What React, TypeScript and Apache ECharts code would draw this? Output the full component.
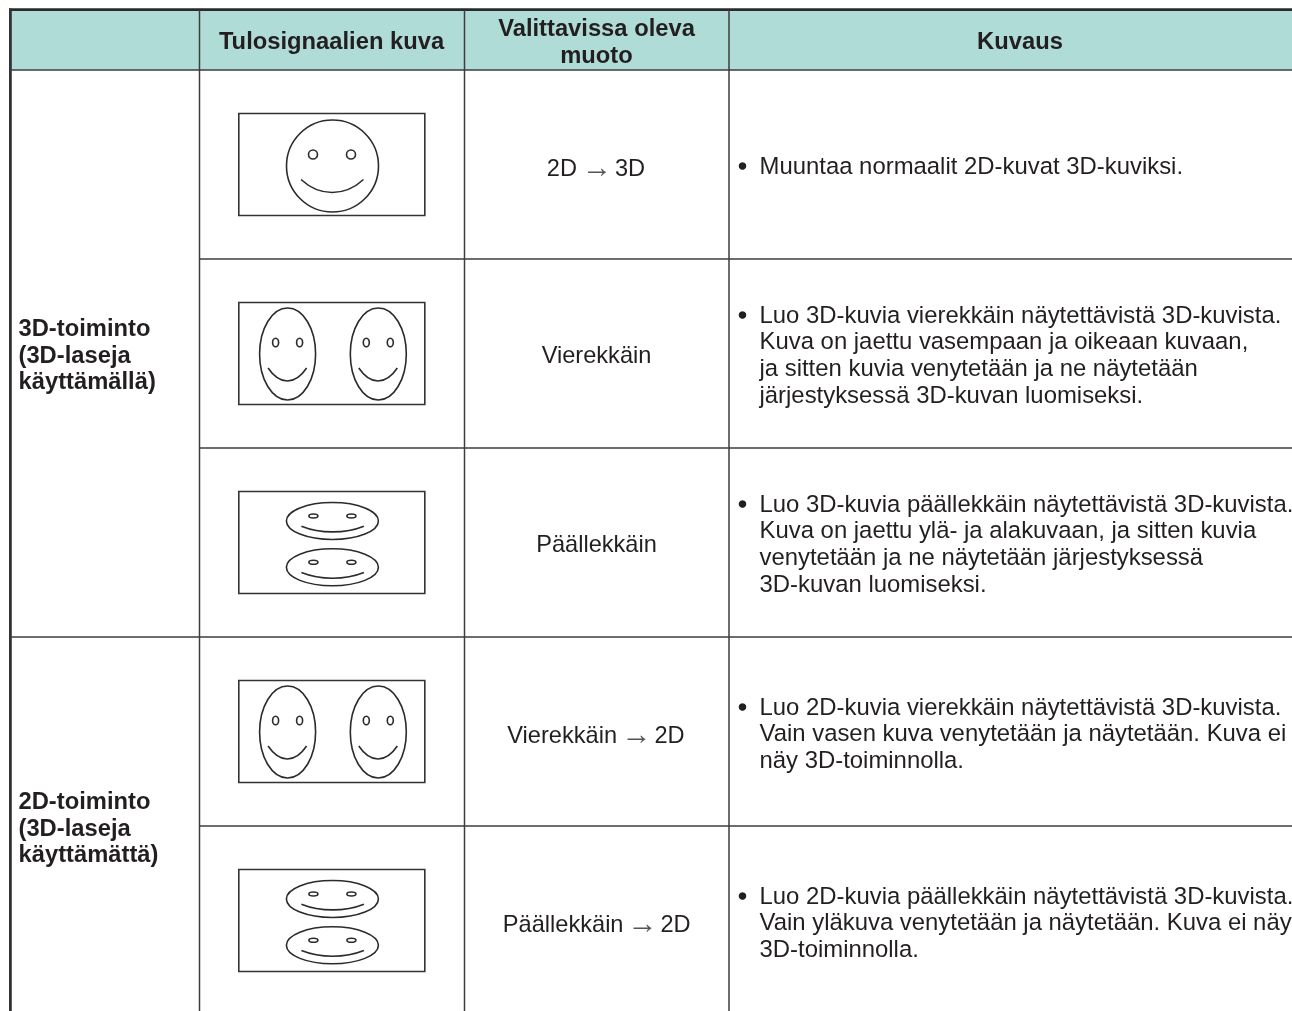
import React, { useEffect, useRef } from "react";
import * as echarts from "echarts";

const headers = ["Tulosignaalien kuva", "Valittavissa oleva\nmuoto", "Kuvaus"];
const groupLabels = ["3D-toiminto\n(3D-laseja\nkäyttämällä)", "2D-toiminto\n(3D-laseja\nkäyttämättä)"];
const formats = ["2D → 3D", "Vierekkäin", "Päällekkäin", "Vierekkäin → 2D", "Päällekkäin → 2D"];
const descriptions = [
  "Muuntaa normaalit 2D-kuvat 3D-kuviksi.",
  "Luo 3D-kuvia vierekkäin näytettävistä 3D-kuvista.\nKuva on jaettu vasempaan ja oikeaan kuvaan,\nja sitten kuvia venytetään ja ne näytetään\njärjestyksessä 3D-kuvan luomiseksi.",
  "Luo 3D-kuvia päällekkäin näytettävistä 3D-kuvista.\nKuva on jaettu ylä- ja alakuvaan, ja sitten kuvia\nvenytetään ja ne näytetään järjestyksessä\n3D-kuvan luomiseksi.",
  "Luo 2D-kuvia vierekkäin näytettävistä 3D-kuvista.\nVain vasen kuva venytetään ja näytetään. Kuva ei\nnäy 3D-toiminnolla.",
  "Luo 2D-kuvia päällekkäin näytettävistä 3D-kuvista.\nVain yläkuva venytetään ja näytetään. Kuva ei näy\n3D-toiminnolla.",
];
const faceKinds = ["round", "sideBySide", "topBottom", "sideBySide", "topBottom"];

const FONT = '"Liberation Sans", Arial, sans-serif';
const INK = "#231f20";
const LINE = "#3d3d3d";
const HEADER = "#b0dcd8";
const W = 1292;
const H = 1011;
const colX = [199.5, 464.5, 729];
const rowY = [70, 259, 448, 637, 826];
const SIZE_BODY = 23.9;
const SIZE_MID = 23.6;
const SIZE_BOLD = 23.75;
const LH = 26.65;

const hLine = (x1: number, x2: number, y: number, w = 1.5, c = LINE) => ({
  type: "line",
  shape: { x1, y1: y, x2, y2: y },
  style: { stroke: c, lineWidth: w },
});
const vLine = (x: number, y1: number, y2: number, w = 1.5, c = LINE) => ({
  type: "line",
  shape: { x1: x, y1, x2: x, y2 },
  style: { stroke: c, lineWidth: w },
});
const text = (
  x: number,
  y: number,
  t: string,
  align: string,
  verticalAlign: string,
  size: number,
  bold = false,
  fill = INK
) => ({
  type: "text",
  x,
  y,
  style: {
    text: t,
    fill,
    font: `${bold ? "bold " : ""}${size}px ${FONT}`,
    lineHeight: LH,
    align,
    verticalAlign,
  },
});
const ell = (cx: number, cy: number, rx: number, ry: number, w = 1.6) => ({
  type: "ellipse",
  shape: { cx, cy, rx, ry },
  style: { fill: "#fff", stroke: "#2b2b2b", lineWidth: w },
});
const mouth = (x1: number, x2: number, y: number, depth: number) => ({
  type: "bezierCurve",
  shape: {
    x1,
    y1: y,
    cpx1: x1 + (x2 - x1) * 0.3,
    cpy1: y + depth * 1.33,
    cpx2: x1 + (x2 - x1) * 0.7,
    cpy2: y + depth * 1.33,
    x2,
    y2: y,
  },
  style: { fill: "none", stroke: "#2b2b2b", lineWidth: 1.6 },
});
const tallFace = (cx: number, cy: number) => [
  ell(cx, cy, 28, 46),
  ell(cx - 12, cy - 11.5, 3, 4.3),
  ell(cx + 12, cy - 11.5, 3, 4.3),
  mouth(cx - 19.5, cx + 19, cy + 14, 13),
];
const flatFace = (cx: number, cy: number) => [
  ell(cx, cy, 46, 18.5),
  ell(cx - 19, cy - 5, 4.5, 2),
  ell(cx + 19, cy - 5, 4.5, 2),
  mouth(cx - 31, cx + 31.5, cy + 5.2, 5.7),
];
const picture = (kind: string, top: number) => {
  const out: any[] = [
    {
      type: "rect",
      shape: { x: 238.8, y: top + 43.5, width: 186, height: 102 },
      style: { fill: "#fff", stroke: "#333", lineWidth: 1.6 },
    },
  ];
  if (kind === "round") {
    out.push(
      ell(332.5, top + 96, 46, 46),
      ell(313, top + 84.5, 4.5, 4.5),
      ell(351, top + 84.5, 4.5, 4.5),
      mouth(301, 363.5, top + 109.5, 13)
    );
  } else if (kind === "sideBySide") {
    out.push(...tallFace(287.6, top + 95), ...tallFace(378.3, top + 95));
  } else {
    out.push(...flatFace(332.4, top + 73), ...flatFace(332.4, top + 119.3));
  }
  return out;
};

const formatY = [168, 355, 544, 735, 924];
const descTop = [166, 315, 504, 707, 896];
const arrowX: Record<number, [number, number, number]> = {
  0: [577, 597, 615],
  3: [617, 636.5, 654.5],
  4: [623.5, 642.5, 660.5],
};

export default function App() {
  const ref = useRef<HTMLDivElement>(null);
  useEffect(() => {
    const chart = echarts.init(ref.current!, undefined, { renderer: "svg" });
    const els: any[] = [
      { type: "rect", shape: { x: 0, y: 0, width: W, height: H }, style: { fill: "#fff" } },
      { type: "rect", shape: { x: 10, y: 9, width: W - 10, height: 61 }, style: { fill: HEADER } },
      hLine(9, W, 9.6, 2.8, "#2a2a2a"),
      vLine(10.4, 8.5, H, 2.8, "#333"),
      hLine(10, W, 70, 1.6),
      hLine(199.5, W, 259, 1.4),
      hLine(199.5, W, 448, 1.4),
      hLine(10, W, 637, 1.6),
      hLine(199.5, W, 826, 1.4),
      ...colX.map((x) => vLine(x, 10, H, 1.5)),
    ];
    els.push(text(331.5, 40.3, headers[0], "center", "middle", SIZE_BOLD, true));
    els.push(text(596.5, 40.8, headers[1], "center", "middle", SIZE_BOLD, true));
    els.push(text(1020, 40.3, headers[2], "center", "middle", SIZE_BOLD, true));
    els.push(text(18.5, 354.2, groupLabels[0], "left", "middle", SIZE_BOLD, true));
    els.push(text(18.5, 827.2, groupLabels[1], "left", "middle", SIZE_BOLD, true));
    faceKinds.forEach((k, i) => {
      els.push(...picture(k, rowY[i]));
      const parts = formats[i].split(" → ");
      if (parts.length === 2) {
        const [lx, ax, rx] = arrowX[i];
        els.push(text(lx, formatY[i], parts[0], "right", "middle", SIZE_MID));
        els.push(text(ax, formatY[i] - 1.5, "→", "center", "middle", 30, false, "#555"));
        els.push(text(rx, formatY[i], parts[1], "left", "middle", SIZE_MID));
      } else {
        els.push(text(596.5, formatY[i], formats[i], "center", "middle", SIZE_MID));
      }
      els.push(text(759.5, descTop[i] - LH / 2 - 0.7, descriptions[i], "left", "top", SIZE_BODY));
      els.push({
        type: "circle",
        shape: { cx: 742.5, cy: descTop[i], r: 3.8 },
        style: { fill: INK },
      });
    });
    chart.setOption({ animation: false, graphic: { elements: els } });
    return () => chart.dispose();
  }, []);
  return <div ref={ref} style={{ position: "fixed", left: 0, top: 0, width: W, height: H }} />;
}
